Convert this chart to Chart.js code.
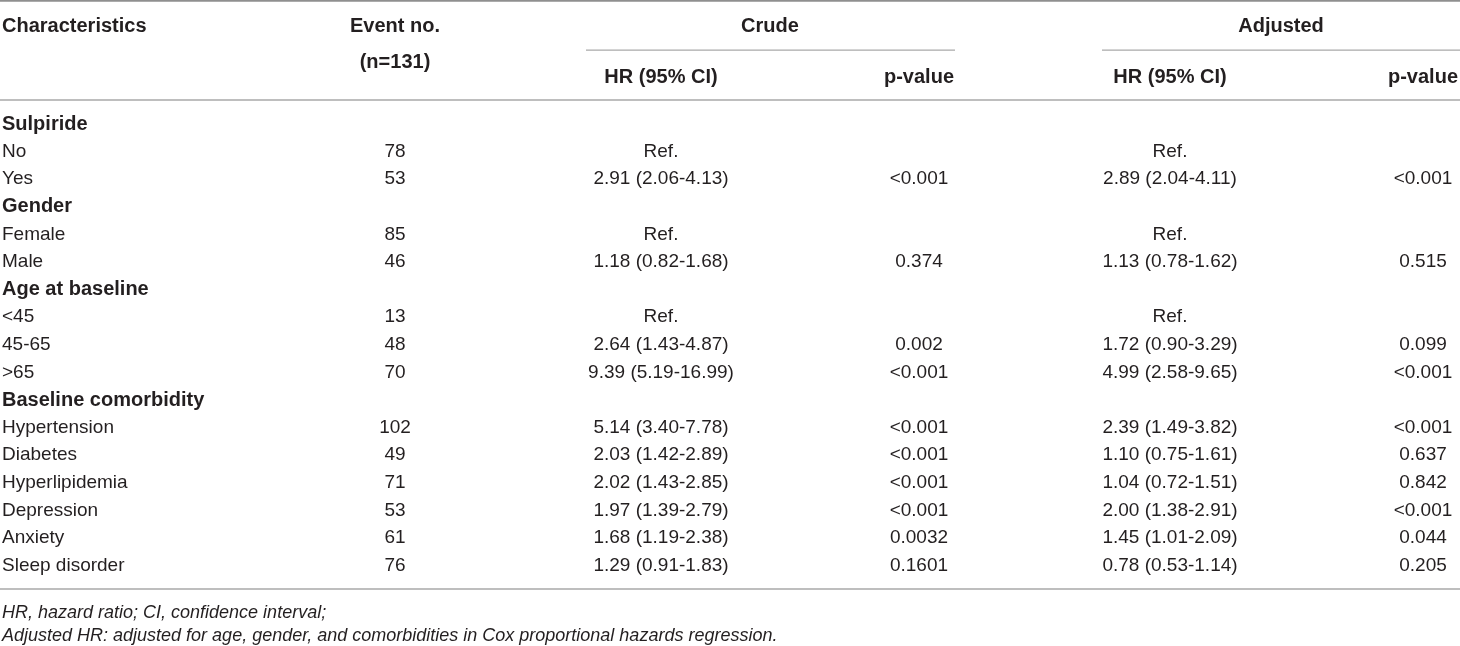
<!DOCTYPE html>
<html>
<head>
<meta charset="utf-8">
<title>Sulpiride HR table</title>
<script src="https://cdn.jsdelivr.net/npm/chart.js@4.4.1/dist/chart.umd.min.js"></script>
<style>
html,body{margin:0;padding:0;background:#fff;}
#wrap{width:1460px;height:646px;position:relative;}
</style>
</head>
<body>
<div id="wrap"><canvas id="myChart"></canvas></div>
<script>
'use strict';
//rows of the table
let characteristics=['Sulpiride','No','Yes','Gender','Female','Male','Age at baseline','<45','45-65','>65',
'Baseline comorbidity','Hypertension','Diabetes','Hyperlipidemia','Depression','Anxiety','Sleep disorder'];
//group rows are bold
let groupRows=[0,3,6,10];
let eventNo=['','78','53','','85','46','','13','48','70','','102','49','71','53','61','76'];
let crudeHR=['','Ref.','2.91 (2.06-4.13)','','Ref.','1.18 (0.82-1.68)','','Ref.','2.64 (1.43-4.87)','9.39 (5.19-16.99)',
'','5.14 (3.40-7.78)','2.03 (1.42-2.89)','2.02 (1.43-2.85)','1.97 (1.39-2.79)','1.68 (1.19-2.38)','1.29 (0.91-1.83)'];
let crudeP=['','','<0.001','','','0.374','','','0.002','<0.001','','<0.001','<0.001','<0.001','<0.001','0.0032','0.1601'];
let adjustedHR=['','Ref.','2.89 (2.04-4.11)','','Ref.','1.13 (0.78-1.62)','','Ref.','1.72 (0.90-3.29)','4.99 (2.58-9.65)',
'','2.39 (1.49-3.82)','1.10 (0.75-1.61)','1.04 (0.72-1.51)','2.00 (1.38-2.91)','1.45 (1.01-2.09)','0.78 (0.53-1.14)'];
let adjustedP=['','','<0.001','','','0.515','','','0.099','<0.001','','<0.001','0.637','0.842','<0.001','0.044','0.205'];
//header texts
let headTop=['Characteristics','Event no.','Crude','Adjusted'];
let headSub=['(n=131)','HR (95% CI)','p-value','HR (95% CI)','p-value'];
let footNotes=['HR, hazard ratio; CI, confidence interval;',
'Adjusted HR: adjusted for age, gender, and comorbidities in Cox proportional hazards regression.'];

//layout (x in px units of the x scale, y in row units of the y scale)
let colX=[2,395,661,919,1170,1423];
let groupX=[770,1281];
let headY=-3.53, nY=-2.22, subY=-1.67;
let rules=[
  {x0:0,x1:1460,y:-4.46,c:'#8f8f8f',w:1.6},
  {x0:586,x1:955,y:-2.68,c:'#a9a9a9',w:1.3},
  {x0:1102,x1:1460,y:-2.68,c:'#a9a9a9',w:1.3},
  {x0:0,x1:1460,y:-0.87,c:'#a9a9a9',w:1.4},
  {x0:0,x1:1460,y:16.85,c:'#a9a9a9',w:1.6}
];
let footY=[17.72,18.55];

let ink='#231f20';
let regFont='19px "Liberation Sans", Arial, sans-serif';
let boldFont='bold 20px "Liberation Sans", Arial, sans-serif';
let italFont='italic 18px "Liberation Sans", Arial, sans-serif';

function colData(arr,col){
  let out=[];
  for(let i=0;i<arr.length;i++){
    out.push({x:colX[col],y:i,t:arr[i]});
  }
  return out;
}

function cellSet(label,arr,col,align){
  return {label:label,data:colData(arr,col),align:align,pointRadius:0,showLine:false};
}

let cellText={
  id:'cellText',
  afterDatasetsDraw(chart){
    let ctx=chart.ctx;
    let xs=chart.scales.x;
    let ys=chart.scales.y;
    ctx.save();
    //rules
    rules.forEach(function(r){
      ctx.strokeStyle=r.c;
      ctx.lineWidth=r.w;
      ctx.beginPath();
      ctx.moveTo(xs.getPixelForValue(r.x0),ys.getPixelForValue(r.y));
      ctx.lineTo(xs.getPixelForValue(r.x1),ys.getPixelForValue(r.y));
      ctx.stroke();
    });
    ctx.fillStyle=ink;
    ctx.textBaseline='middle';
    //body cells
    chart.data.datasets.forEach(function(ds,di){
      let meta=chart.getDatasetMeta(di);
      ctx.textAlign=ds.align;
      meta.data.forEach(function(pt,i){
        let t=ds.data[i].t;
        if(!t) return;
        ctx.font=(di===0 && groupRows.indexOf(i)>=0)?boldFont:regFont;
        ctx.fillText(t,pt.x,pt.y);
      });
    });
    //header
    ctx.font=boldFont;
    ctx.textAlign='left';
    ctx.fillText(headTop[0],xs.getPixelForValue(colX[0]),ys.getPixelForValue(headY));
    ctx.textAlign='center';
    ctx.fillText(headTop[1],xs.getPixelForValue(colX[1]),ys.getPixelForValue(headY));
    ctx.fillText(headTop[2],xs.getPixelForValue(groupX[0]),ys.getPixelForValue(headY));
    ctx.fillText(headTop[3],xs.getPixelForValue(groupX[1]),ys.getPixelForValue(headY));
    ctx.fillText(headSub[0],xs.getPixelForValue(colX[1]),ys.getPixelForValue(nY));
    for(let k=1;k<headSub.length;k++){
      ctx.fillText(headSub[k],xs.getPixelForValue(colX[k+1]),ys.getPixelForValue(subY));
    }
    //foot notes
    ctx.font=italFont;
    ctx.textAlign='left';
    for(let k=0;k<footNotes.length;k++){
      ctx.fillText(footNotes[k],xs.getPixelForValue(colX[0]),ys.getPixelForValue(footY[k]));
    }
    ctx.restore();
  }
};

let ctx=document.getElementById('myChart').getContext('2d');
let myChart=new Chart(ctx,{
  type:'scatter',
  data:{
    datasets:[
      cellSet('Characteristics',characteristics,0,'left'),
      cellSet('Event no.',eventNo,1,'center'),
      cellSet('Crude HR',crudeHR,2,'center'),
      cellSet('Crude p',crudeP,3,'center'),
      cellSet('Adjusted HR',adjustedHR,4,'center'),
      cellSet('Adjusted p',adjustedP,5,'center')
    ]
  },
  options:{
    responsive:true,
    maintainAspectRatio:false,
    animation:false,
    devicePixelRatio:1,
    layout:{padding:0},
    events:[],
    plugins:{legend:{display:false},tooltip:{enabled:false}},
    scales:{
      x:{type:'linear',display:false,min:0,max:1460},
      y:{type:'linear',display:false,min:-4.493,max:18.913,reverse:true}
    }
  },
  plugins:[cellText]
});
</script>
</body>
</html>
